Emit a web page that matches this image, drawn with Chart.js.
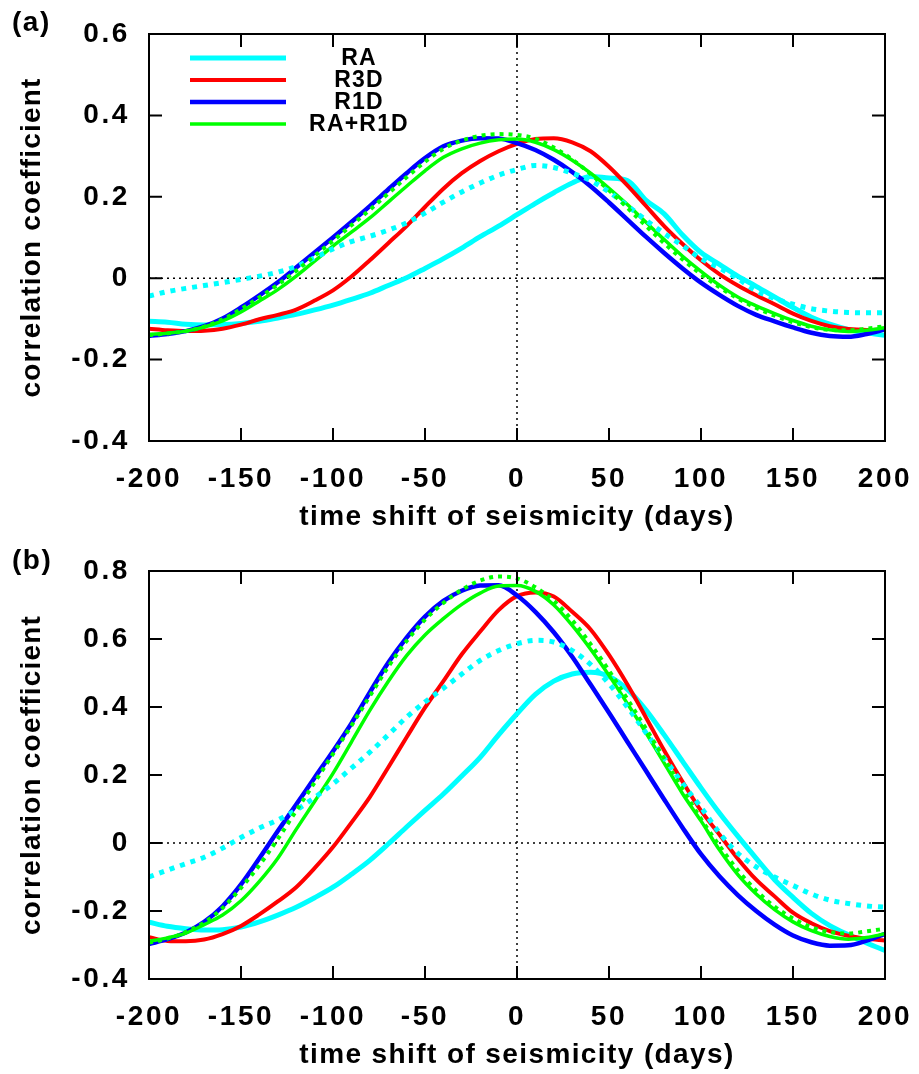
<!DOCTYPE html>
<html><head><meta charset="utf-8">
<script src="https://cdn.jsdelivr.net/npm/chart.js@4.4.1/dist/chart.umd.min.js"></script>
<style>
html,body{margin:0;padding:0;background:#fff;}
#wrap{position:relative;width:919px;height:1074px;overflow:hidden;}
canvas{position:absolute;left:0;}
#ca{top:0}
#cb{top:537px}
</style></head><body>
<div id="wrap"><canvas id="ca" width="919" height="537"></canvas><canvas id="cb" width="919" height="537"></canvas></div>
<script>
// time shift (days)
const days = [-200,-190,-180,-170,-160,-150,-140,-130,-120,-110,-100,-90,-80,-70,-60,-50,-40,-30,-20,-10,0,10,20,30,40,50,60,70,80,90,100,110,120,130,140,150,160,170,180,190,200];
const xTicks = {min:-200, max:200, step:50};
const yTicksA = {min:-0.4, max:0.6, step:0.2};
const yTicksB = {min:-0.4, max:0.8, step:0.2};
const seriesNames = ['RA','R3D','R1D','RA+R1D'];
const xTitle = 'time shift of seismicity (days)';
const yTitle = 'correlation coefficient';

// panel (a)
const aRA = [-0.106,-0.108,-0.113,-0.115,-0.114,-0.111,-0.106,-0.098,-0.089,-0.078,-0.066,-0.052,-0.037,-0.018,0.001,0.024,0.048,0.074,0.102,0.128,0.156,0.184,0.210,0.234,0.250,0.246,0.240,0.192,0.158,0.106,0.063,0.034,0.005,-0.020,-0.046,-0.072,-0.096,-0.113,-0.126,-0.134,-0.140];
const aR3D = [-0.124,-0.128,-0.130,-0.129,-0.124,-0.114,-0.101,-0.090,-0.077,-0.055,-0.030,0.004,0.044,0.086,0.128,0.175,0.220,0.258,0.288,0.312,0.330,0.342,0.344,0.334,0.312,0.274,0.228,0.178,0.128,0.084,0.044,0.010,-0.018,-0.042,-0.064,-0.087,-0.105,-0.118,-0.125,-0.127,-0.126];
const aR1D = [-0.142,-0.137,-0.130,-0.118,-0.099,-0.072,-0.042,-0.010,0.026,0.063,0.100,0.138,0.177,0.218,0.258,0.295,0.324,0.338,0.344,0.343,0.332,0.315,0.291,0.261,0.226,0.186,0.144,0.102,0.062,0.024,-0.011,-0.041,-0.068,-0.090,-0.106,-0.121,-0.134,-0.142,-0.144,-0.137,-0.126];
const aRAR1D = [-0.138,-0.135,-0.130,-0.120,-0.105,-0.083,-0.056,-0.028,0.005,0.042,0.079,0.113,0.148,0.187,0.226,0.264,0.297,0.318,0.332,0.340,0.342,0.334,0.316,0.290,0.258,0.221,0.181,0.138,0.095,0.054,0.017,-0.017,-0.046,-0.068,-0.087,-0.104,-0.118,-0.127,-0.131,-0.128,-0.122];
const aRAdot = [-0.044,-0.033,-0.025,-0.018,-0.011,-0.003,0.005,0.015,0.029,0.050,0.072,0.090,0.103,0.118,0.136,0.160,0.187,0.212,0.234,0.253,0.267,0.277,0.272,0.258,0.240,0.212,0.178,0.143,0.110,0.080,0.048,0.025,-0.001,-0.031,-0.050,-0.064,-0.075,-0.081,-0.084,-0.085,-0.085];
const aRAR1Ddot = [-0.140,-0.136,-0.130,-0.119,-0.101,-0.076,-0.047,-0.016,0.018,0.055,0.092,0.130,0.168,0.208,0.248,0.286,0.318,0.338,0.350,0.354,0.352,0.343,0.321,0.292,0.256,0.216,0.173,0.129,0.086,0.046,0.010,-0.022,-0.050,-0.073,-0.092,-0.108,-0.120,-0.127,-0.128,-0.124,-0.118];

// panel (b)
const bRA = [-0.233,-0.245,-0.252,-0.256,-0.255,-0.247,-0.232,-0.212,-0.189,-0.161,-0.130,-0.092,-0.051,-0.003,0.047,0.096,0.144,0.197,0.252,0.318,0.380,0.437,0.476,0.497,0.502,0.490,0.452,0.392,0.318,0.240,0.162,0.088,0.020,-0.045,-0.108,-0.160,-0.207,-0.243,-0.270,-0.294,-0.316];
const bR3D = [-0.277,-0.288,-0.289,-0.284,-0.268,-0.244,-0.210,-0.172,-0.130,-0.074,-0.012,0.060,0.135,0.222,0.311,0.398,0.476,0.555,0.622,0.685,0.726,0.737,0.725,0.680,0.628,0.553,0.466,0.370,0.272,0.180,0.095,0.025,-0.046,-0.108,-0.157,-0.205,-0.236,-0.259,-0.273,-0.282,-0.287];
const bR1D = [-0.297,-0.283,-0.263,-0.232,-0.186,-0.122,-0.045,0.035,0.113,0.192,0.270,0.352,0.443,0.530,0.604,0.666,0.712,0.742,0.757,0.758,0.728,0.680,0.620,0.548,0.466,0.383,0.298,0.213,0.128,0.045,-0.033,-0.098,-0.153,-0.200,-0.240,-0.272,-0.292,-0.302,-0.301,-0.287,-0.267];
const bRAR1D = [-0.289,-0.279,-0.265,-0.240,-0.212,-0.170,-0.113,-0.045,0.040,0.122,0.205,0.297,0.390,0.475,0.551,0.612,0.660,0.702,0.735,0.756,0.757,0.740,0.700,0.640,0.570,0.493,0.410,0.325,0.235,0.145,0.065,-0.020,-0.093,-0.150,-0.196,-0.232,-0.258,-0.275,-0.283,-0.278,-0.267];
const bRAdot = [-0.100,-0.080,-0.061,-0.042,-0.015,0.016,0.044,0.068,0.097,0.134,0.174,0.220,0.267,0.318,0.370,0.415,0.455,0.497,0.537,0.566,0.586,0.596,0.591,0.566,0.525,0.468,0.400,0.325,0.250,0.175,0.105,0.030,-0.030,-0.070,-0.100,-0.125,-0.150,-0.168,-0.178,-0.185,-0.189];
const bRAR1Ddot = [-0.293,-0.281,-0.262,-0.234,-0.191,-0.132,-0.065,0.012,0.095,0.178,0.262,0.345,0.432,0.518,0.594,0.657,0.706,0.745,0.772,0.784,0.778,0.752,0.712,0.655,0.585,0.507,0.423,0.337,0.248,0.158,0.071,-0.008,-0.080,-0.140,-0.187,-0.222,-0.248,-0.262,-0.266,-0.260,-0.252];

const FONT = "'Liberation Sans', Arial, Helvetica, sans-serif";
Chart.defaults.font.family = FONT;
Chart.defaults.font.size = 28;
Chart.defaults.color = '#000';

const COL = {RA:'#00ffff', R3D:'#ff0000', R1D:'#0000ff', RAR1D:'#00ff00'};

function ds(label, ys, color, width, dash, order, key){
  return {
    label, key,
    data: days.map((d,i)=>({x:d, y:ys[i]})),
    borderColor: color, backgroundColor: color,
    borderWidth: width, borderDash: dash || [],
    borderCapStyle: 'butt',
    pointRadius: 0, fill: false,
    cubicInterpolationMode: 'monotone',
    order
  };
}

function fmt(v){ const r = Math.round(v*10)/10; return (r===0?'0':String(r)); }

const framePlugin = {
  id: 'frame',
  beforeDraw(chart){ chart.ctx.letterSpacing = '2.6px'; },
  beforeDatasetsDraw(chart){
    const {ctx, chartArea:a, scales:{x,y}} = chart;
    ctx.save();
    ctx.strokeStyle = '#000'; ctx.lineWidth = 1.5; ctx.setLineDash([2,4]);
    const y0 = y.getPixelForValue(0), x0 = x.getPixelForValue(0);
    ctx.beginPath();
    ctx.moveTo(a.left, y0); ctx.lineTo(a.right, y0);
    ctx.moveTo(x0, a.top); ctx.lineTo(x0, a.bottom);
    ctx.stroke();
    ctx.restore();
  },
  afterDatasetsDraw(chart){
    const {ctx, chartArea:a, scales:{x,y}} = chart;
    ctx.save();
    ctx.strokeStyle = '#000'; ctx.lineWidth = 2; ctx.setLineDash([]);
    ctx.beginPath();
    const L = 13;
    x.ticks.forEach(t=>{
      if (t.value <= x.min + 1e-9 || t.value >= x.max - 1e-9) return;
      const p = x.getPixelForValue(t.value);
      ctx.moveTo(p, a.bottom); ctx.lineTo(p, a.bottom - L);
      ctx.moveTo(p, a.top); ctx.lineTo(p, a.top + L);
    });
    y.ticks.forEach(t=>{
      if (t.value <= y.min + 1e-9 || t.value >= y.max - 1e-9) return;
      const p = y.getPixelForValue(t.value);
      ctx.moveTo(a.left, p); ctx.lineTo(a.left + L, p);
      ctx.moveTo(a.right, p); ctx.lineTo(a.right - L, p);
    });
    ctx.stroke();
    ctx.strokeRect(a.left, a.top, a.right - a.left, a.bottom - a.top);
    ctx.restore();
  },
  afterDraw(chart, args, opts){
    const {ctx, chartArea:a} = chart;
    ctx.save();
    ctx.fillStyle = '#000';
    ctx.font = 'bold 28px ' + FONT;
    ctx.letterSpacing = '1.5px';
    ctx.textAlign = 'left'; ctx.textBaseline = 'middle';
    ctx.fillText(opts.panel, 12, opts.panelY);
    // axis titles
    ctx.textAlign = 'center';
    ctx.letterSpacing = '1.4px';
    ctx.fillText(xTitle, (a.left + a.right)/2, opts.xTitleY);
    ctx.save();
    ctx.translate(32, (a.top + a.bottom)/2);
    ctx.rotate(-Math.PI/2);
    ctx.letterSpacing = '1.2px';
    ctx.fillText(yTitle, 0, 0);
    ctx.restore();
    if (opts.legend) {
      const items = chart.data.datasets.filter(d=>d.key);
      items.forEach((d,i)=>{
        const yy = a.top + 24 + 22*i;
        ctx.strokeStyle = d.borderColor; ctx.lineWidth = d.borderWidth; ctx.setLineDash([]);
        ctx.beginPath(); ctx.moveTo(a.left + 41, yy); ctx.lineTo(a.left + 137, yy); ctx.stroke();
        ctx.font = 'bold 23px ' + FONT;
        ctx.letterSpacing = '1.2px';
        ctx.textAlign = 'center';
        ctx.fillText(d.label, a.left + 210, yy + 1);
      });
    }
    ctx.restore();
  }
};

function makeChart(id, yr, datasets, panel, panelY, legend, xh, xTitleY){
  return new Chart(document.getElementById(id), {
    type: 'line',
    data: {datasets},
    options: {
      responsive: false, animation: false, events: [],
      layout: {padding: {top:34, right:34, bottom:0, left:0}},
      plugins: {legend:{display:false}, tooltip:{enabled:false}, frame:{panel, panelY, legend, xTitleY}},
      scales: {
        x: {
          type:'linear', min:xTicks.min, max:xTicks.max,
          ticks:{stepSize:xTicks.step, padding:21, maxRotation:0, autoSkip:false, font:{size:28, weight:'bold'}, callback:v=>String(v)},
          grid:{display:false, drawTicks:false}, border:{display:false},
          title:{display:false},
          afterFit(s){ s.height = xh; s.paddingLeft = 0; s.paddingRight = 0; }
        },
        y: {
          type:'linear', min:yr.min, max:yr.max,
          ticks:{stepSize:yr.step, padding:19, font:{size:28, weight:'bold'}, callback:fmt},
          grid:{display:false, drawTicks:false}, border:{display:false},
          title:{display:false},
          afterFit(s){ s.width = 149; s.paddingTop = 0; s.paddingBottom = 0; }
        }
      }
    },
    plugins: [framePlugin]
  });
}

makeChart('ca', yTicksA, [
  ds(seriesNames[0], aRA, COL.RA, 5, null, 6, true),
  ds(seriesNames[1], aR3D, COL.R3D, 4, null, 5, true),
  ds(seriesNames[2], aR1D, COL.R1D, 4.5, null, 4, true),
  ds(seriesNames[3], aRAR1D, COL.RAR1D, 3.5, null, 3, true),
  ds(seriesNames[0]+' (dotted)', aRAdot, COL.RA, 5, [5,6], 2, false),
  ds(seriesNames[3]+' (dotted)', aRAR1Ddot, COL.RAR1D, 4, [4,5], 1, false)
], '(a)', 23, true, 96, 517);

makeChart('cb', yTicksB, [
  ds(seriesNames[0], bRA, COL.RA, 5, null, 6, true),
  ds(seriesNames[1], bR3D, COL.R3D, 4, null, 5, true),
  ds(seriesNames[2], bR1D, COL.R1D, 4.5, null, 4, true),
  ds(seriesNames[3], bRAR1D, COL.RAR1D, 3.5, null, 3, true),
  ds(seriesNames[0]+' (dotted)', bRAdot, COL.RA, 5, [5,6], 2, false),
  ds(seriesNames[3]+' (dotted)', bRAR1Ddot, COL.RAR1D, 4, [4,5], 1, false)
], '(b)', 24, false, 95, 518);
</script>
</body></html>
